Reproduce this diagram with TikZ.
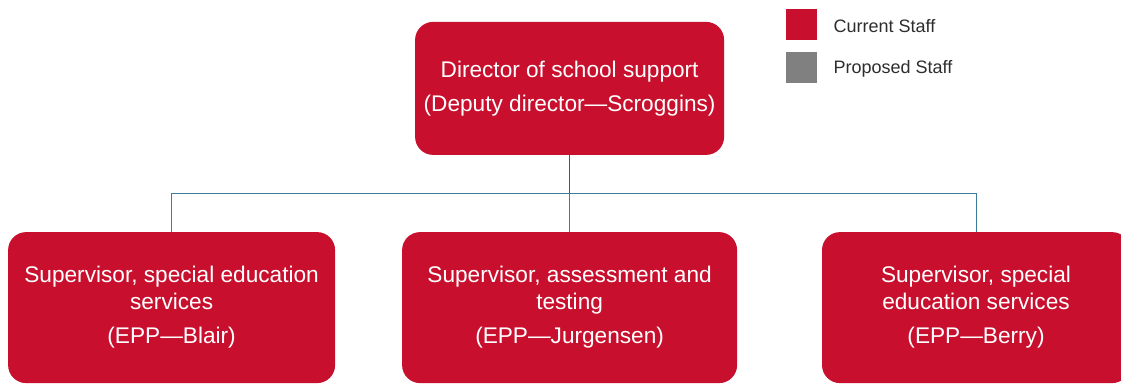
\documentclass[tikz,border=0pt]{standalone}
\usepackage{fontspec}
\setmainfont{Liberation Sans}
\usetikzlibrary{positioning}
\definecolor{staffred}{RGB}{200,16,46}
\definecolor{staffgray}{RGB}{128,128,128}
\definecolor{linkblue}{RGB}{60,125,155}
\definecolor{keytext}{RGB}{45,45,45}
\tikzset{
  post/.style={fill=staffred, rounded corners=0.45cm, text=white, align=center,
    inner sep=0pt, font=\fontsize{16.1}{18.7}\selectfont},
  link/.style={draw=linkblue, line width=0.6pt},
  keybox/.style={minimum size=0.775cm, inner sep=0pt},
  keylabel/.style={inner sep=0pt, anchor=west, text=keytext, font=\fontsize{12.8}{15}\selectfont}
}
\begin{document}
\begin{tikzpicture}
  \useasboundingbox (0,0) rectangle (28.025,-9.575);
  % director
  \node[post, minimum width=7.725cm, minimum height=3.325cm] (dir) at (14.24,-2.21)
    {Director of school support\\[5.5pt](Deputy director---Scroggins)};
  % supervisors
  \node[post, minimum width=8.175cm, minimum height=3.775cm] (sup1) at (4.29,-7.69)
    {Supervisor, special education\\services\\[6pt](EPP---Blair)};
  \node[post, minimum width=8.375cm, minimum height=3.775cm] (sup2) at (14.24,-7.69)
    {Supervisor, assessment and\\testing\\[6pt](EPP---Jurgensen)};
  \node[post, minimum width=7.7cm, minimum height=3.775cm] (sup3) at (24.4,-7.69)
    {Supervisor, special\\education services\\[6pt](EPP---Berry)};
  % connectors
  \coordinate (bus) at (14.24,-4.825);
  \draw[link, draw=linkblue!80!black] (dir.south) -- (bus);
  \foreach \n in {sup1,sup2,sup3}
    \draw[link] (bus) -| (\n.north);
  % key
  \node[keybox, fill=staffred] (key1) at (20.04,-0.61) {};
  \node[keybox, fill=staffgray] (key2) at (20.04,-1.675) {};
  \node[keylabel, right=0.4cm of key1, yshift=-0.03cm] (lab1) {Current Staff};
  \node[keylabel, right=0.4cm of key2, yshift=-0.05cm] (lab2) {Proposed Staff};
\end{tikzpicture}
\end{document}
